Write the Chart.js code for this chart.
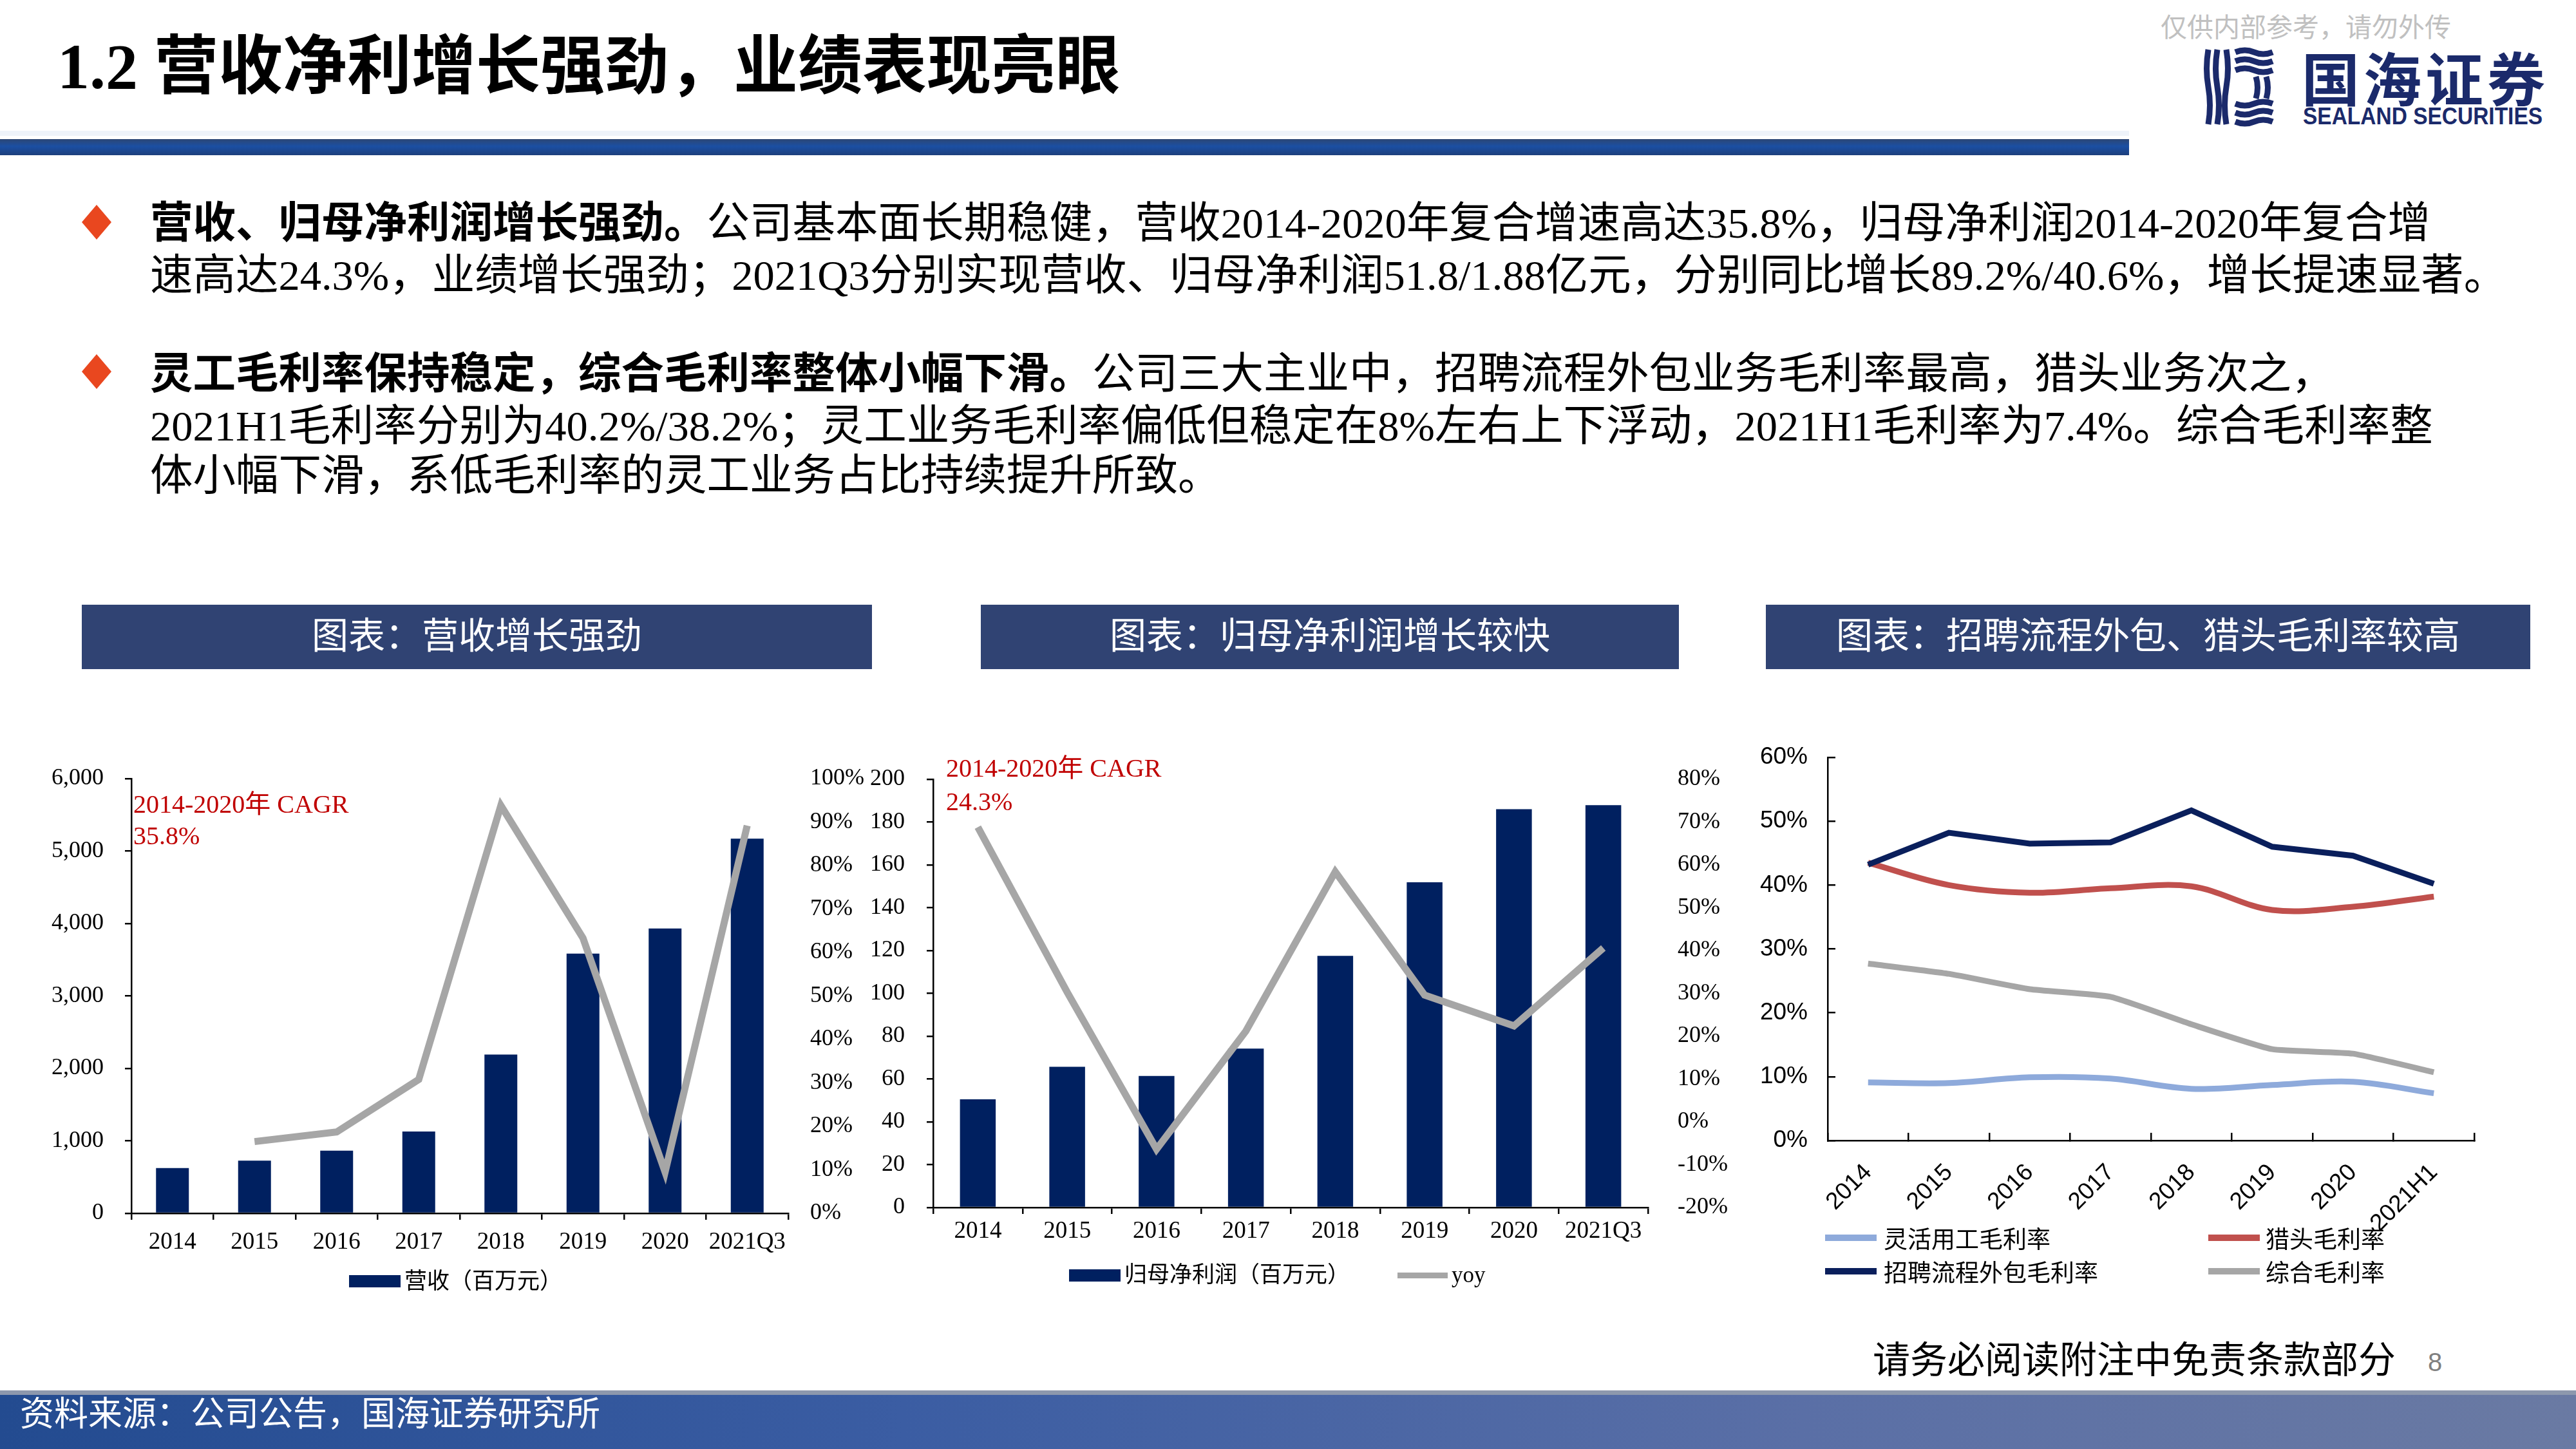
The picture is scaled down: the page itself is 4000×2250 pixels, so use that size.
<!DOCTYPE html>
<html lang="zh-CN">
<head>
<meta charset="utf-8">
<title>1.2 营收净利增长强劲，业绩表现亮眼</title>
<script src="https://cdn.jsdelivr.net/npm/chart.js@4.4.1/dist/chart.umd.min.js"></script>
<style>
  html, body { margin: 0; padding: 0; }
  body {
    width: 4000px; height: 2250px; position: relative; overflow: hidden; background: #fff;
    font-family: "Liberation Serif", "Noto Sans CJK SC", serif; color: #000;
  }
  .abs { position: absolute; white-space: nowrap; }
  #title { left: 89px; top: 44px; font-size: 100px; line-height: 120px; font-weight: bold; }
  #topbar { left: 0; top: 216px; width: 3306px; height: 25px;
    background: linear-gradient(#2c4775, #1b4fa3 45%, #1d3f7c); }
  #topline { left: 0; top: 203px; width: 3306px; height: 8px; background: #eef3fa; }
  #internal { left: 3355px; top: 18px; font-size: 41px; line-height: 50px; color: #c0c0c0; }
  #logo-cn { left: 3574px; top: 70px; font-size: 90px; line-height: 96px; font-weight: bold; color: #1b2a6b;
    font-family: "Noto Sans CJK SC", sans-serif; letter-spacing: 6px; }
  #logo-en { left: 3576px; top: 160px; font-size: 36px; line-height: 42px; font-weight: bold; color: #1b2a6b;
    font-family: "Liberation Sans", Arial, sans-serif; transform: scaleX(0.93); transform-origin: left center; }
  #logo-icon { left: 3421px; top: 73px; }
  .line { font-size: 66.5px; line-height: 80px; left: 233px; }
  .diamond { width: 46px; height: 54px; background: #e9471f;
    clip-path: polygon(50% 0, 100% 50%, 50% 100%, 0 50%); }
  .cbox { background: #304373; color: #fff; height: 100px; line-height: 86px; top: 939px;
    text-align: center; font-size: 57px; font-family: "Noto Sans CJK SC", sans-serif; overflow: hidden; }
  .note { color: #c00000; font-size: 40px; line-height: 50px; }
  .chart { position: absolute; }
  .lg { font-size: 35px; line-height: 40px; }
  .lg3 { font-size: 37px; line-height: 44px; font-family: "Noto Sans CJK SC", sans-serif; }
  .swatch { position: absolute; }
  #disclaimer { left: 2908px; top: 2080px; font-size: 58px; line-height: 66px; }
  #pageno { left: 3770px; top: 2092px; font-size: 40px; line-height: 46px; color: #808080;
    font-family: "Liberation Sans", sans-serif; }
  #footer { left: 0; top: 2159px; width: 4000px; height: 91px;
    background: linear-gradient(90deg, #234b90, #3b5da3 35%, #5a6fa6 70%, #6a7aa3); }
  #footer-top { left: 0; top: 2159px; width: 4000px; height: 7px; background: #8d98ad; }
  #source { left: 31px; top: 2160px; font-size: 53px; line-height: 62px; color: #fff;
    font-family: "Noto Sans CJK SC", sans-serif; }
</style>
</head>
<body>

<div id="title" class="abs">1.2 营收净利增长强劲，业绩表现亮眼</div>
<div id="topline" class="abs"></div>
<div id="topbar" class="abs"></div>

<div id="internal" class="abs">仅供内部参考，请勿外传</div>
<svg id="logo-icon" class="abs" width="112" height="124" viewBox="0 0 112 124">
  <g fill="none" stroke="#1b2a6b" stroke-width="9">
    <path d="M8 4 q-5 30 0 58 t0 58"/>
    <path d="M22 4 q-5 30 0 58 t0 58"/>
    <path d="M36 4 q5 30 0 58 t0 58"/>
    <path d="M50 8 q15 -6 29 0 t29 0"/>
    <path d="M50 22 q15 -6 29 0 t29 0"/>
    <path d="M50 36 q15 -6 29 0 t29 0"/>
    <path d="M82 46 q5 17 0 34"/>
    <path d="M98 46 q5 17 0 34"/>
    <path d="M50 88 q15 6 29 0 t29 0"/>
    <path d="M50 102 q15 6 29 0 t29 0"/>
    <path d="M50 116 q15 6 29 0 t29 0"/>
  </g>
</svg>
<div id="logo-cn" class="abs">国海证券</div>
<div id="logo-en" class="abs">SEALAND SECURITIES</div>

<div class="abs diamond" style="left:127px; top:318px;"></div>
<div class="abs line" style="top:307px;"><b>营收、归母净利润增长强劲。</b>公司基本面长期稳健，营收2014-2020年复合增速高达35.8%，归母净利润2014-2020年复合增</div>
<div class="abs line" style="top:388px;">速高达24.3%，业绩增长强劲；2021Q3分别实现营收、归母净利润51.8/1.88亿元，分别同比增长89.2%/40.6%，增长提速显著。</div>

<div class="abs diamond" style="left:127px; top:550px;"></div>
<div class="abs line" style="top:541px;"><b>灵工毛利率保持稳定，综合毛利率整体小幅下滑。</b>公司三大主业中，招聘流程外包业务毛利率最高，猎头业务次之，</div>
<div class="abs line" style="top:622px;">2021H1毛利率分别为40.2%/38.2%；灵工业务毛利率偏低但稳定在8%左右上下浮动，2021H1毛利率为7.4%。综合毛利率整</div>
<div class="abs line" style="top:699px;">体小幅下滑，系低毛利率的灵工业务占比持续提升所致。</div>

<div class="abs cbox" style="left:127px; width:1227px;">图表：营收增长强劲</div>
<div class="abs cbox" style="left:1523px; width:1084px;">图表：归母净利润增长较快</div>
<div class="abs cbox" style="left:2742px; width:1187px;">图表：招聘流程外包、猎头毛利率较高</div>

<div class="chart" style="left:40px; top:1150px; width:1360px; height:900px;"><canvas id="chart1"></canvas></div>
<div class="chart" style="left:1300px; top:1150px; width:1400px; height:900px;"><canvas id="chart2"></canvas></div>
<div class="chart" style="left:2700px; top:1100px; width:1250px; height:950px;"><canvas id="chart3"></canvas></div>

<div class="abs note" style="left:207px; top:1224px;">2014-2020年 CAGR</div>
<div class="abs note" style="left:207px; top:1273px;">35.8%</div>
<div class="abs note" style="left:1469px; top:1168px;">2014-2020年 CAGR</div>
<div class="abs note" style="left:1469px; top:1220px;">24.3%</div>

<!-- legends -->
<div class="swatch" style="left:542px; top:1980px; width:80px; height:19px; background:#002060;"></div>
<div class="abs lg" style="left:628px; top:1970px;">营收（百万元）</div>

<div class="swatch" style="left:1660px; top:1971px; width:80px; height:19px; background:#002060;"></div>
<div class="abs lg" style="left:1746px; top:1960px;">归母净利润（百万元）</div>
<div class="swatch" style="left:2170px; top:1976px; width:78px; height:9px; background:#a6a6a6;"></div>
<div class="abs lg" style="left:2254px; top:1960px;">yoy</div>

<div class="swatch" style="left:2834px; top:1917px; width:80px; height:10px; background:#8eaadb;"></div>
<div class="abs lg3" style="left:2925px; top:1900px;">灵活用工毛利率</div>
<div class="swatch" style="left:3429px; top:1917px; width:80px; height:10px; background:#c0504d;"></div>
<div class="abs lg3" style="left:3518px; top:1900px;">猎头毛利率</div>
<div class="swatch" style="left:2834px; top:1969px; width:80px; height:10px; background:#0a1f5c;"></div>
<div class="abs lg3" style="left:2925px; top:1952px;">招聘流程外包毛利率</div>
<div class="swatch" style="left:3429px; top:1969px; width:80px; height:10px; background:#a6a6a6;"></div>
<div class="abs lg3" style="left:3518px; top:1952px;">综合毛利率</div>

<div id="disclaimer" class="abs">请务必阅读附注中免责条款部分</div>
<div id="pageno" class="abs">8</div>
<div id="footer" class="abs"></div>
<div id="footer-top" class="abs"></div>
<div id="source" class="abs">资料来源：公司公告，国海证券研究所</div>

<script>
// 数据
const years = ['2014', '2015', '2016', '2017', '2018', '2019', '2020', '2021Q3'];
const revenue = [625, 727, 864, 1129, 2192, 3585, 3931, 5171];          // 营收（百万元）
const revenueYoy = [null, 16.5, 18.7, 30.8, 93.8, 63.3, 9.5, 89.2];    // %
const netProfit = [50.5, 65.7, 61.4, 74.2, 117.5, 151.9, 186.0, 187.9]; // 归母净利润（百万元）
const netProfitYoy = [68.8, 30.3, -6.4, 21.2, 58.4, 29.6, 22.4, 40.6];  // %

const marginYears = ['2014', '2015', '2016', '2017', '2018', '2019', '2020', '2021H1'];
const flexMargin = [9.1, 9.0, 9.9, 9.7, 8.1, 8.7, 9.2, 7.4];           // 灵活用工毛利率
const headhuntMargin = [43.5, 40.0, 38.8, 39.5, 39.8, 36.1, 36.6, 38.2]; // 猎头毛利率
const rpoMargin = [43.2, 48.2, 46.5, 46.7, 51.7, 46.0, 44.6, 40.2];      // 招聘流程外包毛利率
const totalMargin = [27.7, 26.1, 23.7, 22.5, 18.2, 14.3, 13.6, 10.7];    // 综合毛利率

const SERIF = '"Liberation Serif", "Noto Sans CJK SC", serif';
const SANS = '"Liberation Sans", "Noto Sans CJK SC", sans-serif';
Chart.defaults.font.family = SERIF;
Chart.defaults.color = '#000';

function fixWidth(w) { return function (scale) { scale.width = w; }; }
function fixHeight(h) { return function (scale) { scale.height = h; }; }

const baseOpts = {
    responsive: true,
    maintainAspectRatio: false,
    animation: false,
    plugins: { legend: { display: false }, tooltip: { enabled: false } }
};

// --- 1. 营收 ---
new Chart(document.getElementById('chart1'), {
    type: 'bar',
    data: {
        labels: years,
        datasets: [
            { type: 'line', label: 'yoy', data: revenueYoy, yAxisID: 'y1', borderColor: '#a6a6a6',
              borderWidth: 11, pointRadius: 0, tension: 0, order: 0 },
            { type: 'bar', label: '营收（百万元）', data: revenue, yAxisID: 'y', backgroundColor: '#002060',
              barPercentage: 0.4, categoryPercentage: 1, order: 1 }
        ]
    },
    options: Object.assign({}, baseOpts, {
        layout: { padding: { top: 59, left: 0, right: 0, bottom: 0 } },
        scales: {
            x: {
                offset: true,
                grid: { offset: true, drawOnChartArea: false, color: '#000', lineWidth: 2.5, tickLength: 10 },
                border: { color: '#000', width: 2.5 },
                ticks: { font: { size: 37 }, padding: 13, maxRotation: 0, autoSkip: false },
                afterFit: fixHeight(166)
            },
            y: {
                min: 0, max: 6000,
                grid: { drawOnChartArea: false, color: '#000', lineWidth: 2.5, tickLength: 10 },
                border: { color: '#000', width: 2.5 },
                ticks: { stepSize: 1000, font: { size: 36 }, padding: 33, callback: v => v.toLocaleString('en-US') },
                afterFit: fixWidth(164)
            },
            y1: {
                position: 'right', min: 0, max: 100,
                grid: { display: false }, border: { display: false },
                ticks: { stepSize: 10, font: { size: 36 }, padding: 26, callback: v => v + '%' },
                afterFit: fixWidth(176)
            }
        }
    })
});

// --- 2. 归母净利润 ---
new Chart(document.getElementById('chart2'), {
    type: 'bar',
    data: {
        labels: years,
        datasets: [
            { type: 'line', label: 'yoy', data: netProfitYoy, yAxisID: 'y1', borderColor: '#a6a6a6',
              borderWidth: 11, pointRadius: 0, tension: 0, order: 0 },
            { type: 'bar', label: '归母净利润（百万元）', data: netProfit, yAxisID: 'y', backgroundColor: '#002060',
              barPercentage: 0.4, categoryPercentage: 1, order: 1 }
        ]
    },
    options: Object.assign({}, baseOpts, {
        layout: { padding: { top: 60, left: 0, right: 0, bottom: 0 } },
        scales: {
            x: {
                offset: true,
                grid: { offset: true, drawOnChartArea: false, color: '#000', lineWidth: 2.5, tickLength: 10 },
                border: { color: '#000', width: 2.5 },
                ticks: { font: { size: 37 }, padding: 5, maxRotation: 0, autoSkip: false },
                afterFit: fixHeight(175)
            },
            y: {
                min: 0, max: 200,
                grid: { drawOnChartArea: false, color: '#000', lineWidth: 2.5, tickLength: 10 },
                border: { color: '#000', width: 2.5 },
                ticks: { stepSize: 20, font: { size: 36 }, padding: 34 },
                afterFit: fixWidth(149)
            },
            y1: {
                position: 'right', min: -20, max: 80,
                grid: { display: false }, border: { display: false },
                ticks: { stepSize: 10, font: { size: 36 }, padding: 38, callback: v => v + '%' },
                afterFit: fixWidth(141)
            }
        }
    })
});

// --- 3. 毛利率 ---
new Chart(document.getElementById('chart3'), {
    type: 'line',
    data: {
        labels: marginYears,
        datasets: [
            { label: '招聘流程外包毛利率', data: rpoMargin, borderColor: '#0a1f5c', tension: 0 },
            { label: '猎头毛利率', data: headhuntMargin, borderColor: '#c0504d', tension: 0.35 },
            { label: '综合毛利率', data: totalMargin, borderColor: '#a6a6a6', tension: 0.15 },
            { label: '灵活用工毛利率', data: flexMargin, borderColor: '#8eaadb', tension: 0.35 }
        ].map(d => Object.assign(d, { borderWidth: 9, pointRadius: 0, fill: false }))
    },
    options: Object.assign({}, baseOpts, {
        layout: { padding: { top: 76, left: 0, right: 108, bottom: 0 } },
        scales: {
            x: {
                offset: true,
                grid: { offset: true, drawOnChartArea: false, color: '#000', lineWidth: 2.5, tickLength: -12 },
                border: { color: '#000', width: 2.5 },
                ticks: { font: { family: SANS, size: 37 }, padding: 40, minRotation: 45, maxRotation: 45, autoSkip: false },
                afterFit: fixHeight(279)
            },
            y: {
                min: 0, max: 60,
                grid: { drawOnChartArea: false, color: '#000', lineWidth: 2.5, tickLength: -12 },
                border: { color: '#000', width: 2.5 },
                ticks: { stepSize: 10, font: { family: SANS, size: 37 }, padding: 43, callback: v => v + '%' },
                afterFit: fixWidth(138)
            }
        }
    })
});
</script>
</body>
</html>
